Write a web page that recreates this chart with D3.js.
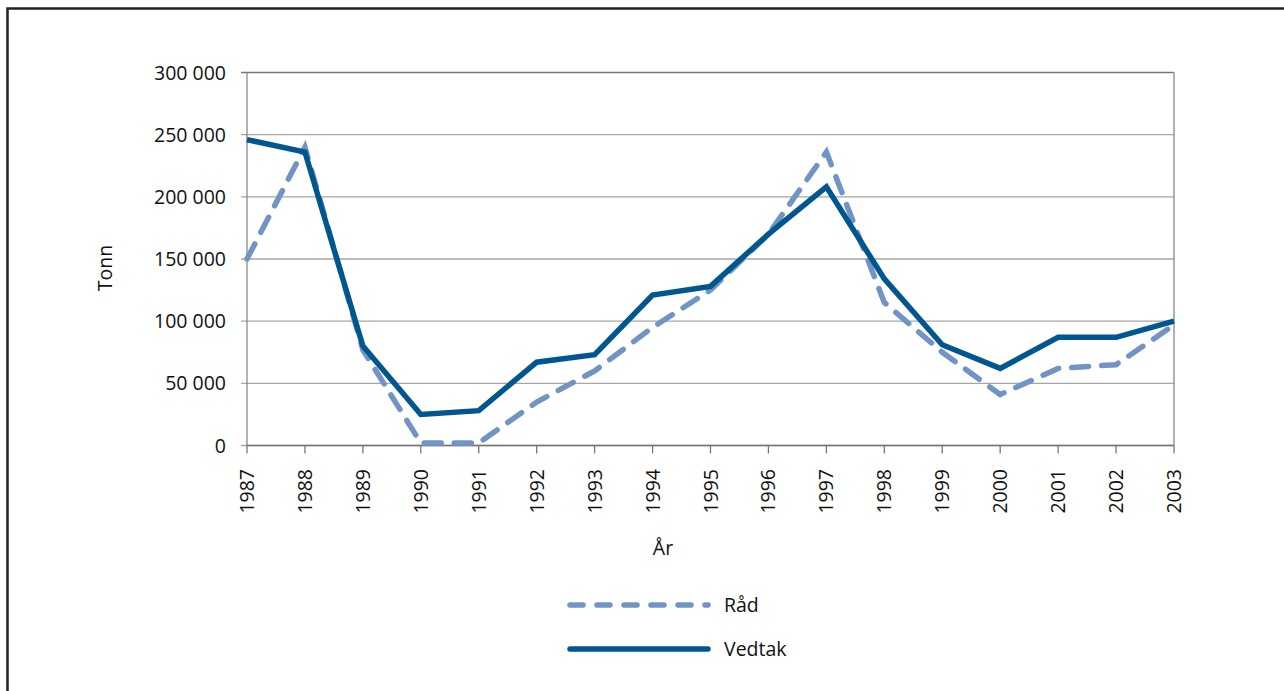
<!DOCTYPE html>
<html>
<head>
<meta charset="utf-8">
<script src="https://cdn.jsdelivr.net/npm/d3@7"></script>
<style>
  body { margin: 0; background: #fff; }
  text { font-family: "Open Sans", "Noto Sans", sans-serif; fill: #111; }
</style>
</head>
<body>
<svg id="chart" width="1284" height="691"></svg>
<script>
var years = [1987, 1988, 1989, 1990, 1991, 1992, 1993, 1994, 1995, 1996, 1997, 1998, 1999, 2000, 2001, 2002, 2003];
var raad = [150000, 240000, 77000, 2000, 2000, 35000, 60000, 95000, 125000, 170000, 236000, 115000, 75000, 41000, 62000, 65000, 97000];
var vedtak = [246000, 236000, 80000, 25000, 28000, 67000, 73000, 121000, 128000, 170000, 208000, 134000, 81000, 62000, 87000, 87000, 100000];
var yTicks = [0, 50000, 100000, 150000, 200000, 250000, 300000];

var svg = d3.select("#chart");

// outer frame (top + left only are visible)
svg.append("path")
    .attr("d", "M7.5,1284 V8.5 H1284")
    .attr("fill", "none")
    .attr("stroke", "#222")
    .attr("stroke-width", 2.5);

var plotLeft = 247, plotRight = 1174, plotTop = 72.5, plotBottom = 445.5;

var x = d3.scalePoint().domain(years).range([plotLeft, plotRight]);
var y = d3.scaleLinear().domain([0, 300000]).range([plotBottom, plotTop]);

var fmt = function (v) { return d3.format(",")(v).replace(/,/g, " "); };

// grid lines
svg.append("g")
    .selectAll("line")
    .data(yTicks)
    .enter().append("line")
    .attr("x1", plotLeft - 6).attr("x2", plotRight)
    .attr("y1", function (d) { return y(d); })
    .attr("y2", function (d) { return y(d); })
    .attr("stroke", function (d) { return d == 300000 ? "#777" : "#a6a6a6"; })
    .attr("stroke-width", 1.3);

// plot frame: left axis and right side
svg.append("line").attr("x1", plotLeft).attr("x2", plotLeft).attr("y1", plotTop).attr("y2", plotBottom)
    .attr("stroke", "#888").attr("stroke-width", 1.3);
svg.append("line").attr("x1", plotRight).attr("x2", plotRight).attr("y1", plotTop).attr("y2", plotBottom)
    .attr("stroke", "#888").attr("stroke-width", 1.3);

// y labels
svg.append("g")
    .selectAll("text")
    .data(yTicks)
    .enter().append("text")
    .attr("x", 226)
    .attr("y", function (d) { return y(d); })
    .attr("dy", "0.36em")
    .attr("text-anchor", "end")
    .attr("font-size", 19.5)
    .text(fmt);

// x axis
svg.append("line").attr("x1", plotLeft).attr("x2", plotRight).attr("y1", plotBottom).attr("y2", plotBottom)
    .attr("stroke", "#777").attr("stroke-width", 1.3);
svg.append("g")
    .selectAll("line")
    .data(years)
    .enter().append("line")
    .attr("x1", function (d) { return x(d); })
    .attr("x2", function (d) { return x(d); })
    .attr("y1", plotBottom).attr("y2", plotBottom + 8)
    .attr("stroke", "#777").attr("stroke-width", 1.3);
svg.append("g")
    .selectAll("text")
    .data(years)
    .enter().append("text")
    .attr("transform", function (d) { return "translate(" + x(d) + "," + 469 + ") rotate(-90)"; })
    .attr("dy", "0.36em")
    .attr("text-anchor", "end")
    .attr("font-size", 19.5)
    .text(function (d) { return d; });

// axis titles
svg.append("text")
    .attr("transform", "translate(105,268) rotate(-90)")
    .attr("dy", "0.36em")
    .attr("text-anchor", "middle")
    .attr("font-size", 19.5)
    .text("Tonn");
svg.append("text")
    .attr("x", 663).attr("y", 548)
    .attr("dy", "0.36em")
    .attr("text-anchor", "middle")
    .attr("font-size", 19.5)
    .text("År");

var line = d3.line()
    .x(function (d, i) { return x(years[i]); })
    .y(function (d) { return y(d); });

var raadColor = "#7094c4", vedtakColor = "#00568f";

svg.append("path")
    .datum(raad)
    .attr("d", line)
    .attr("fill", "none")
    .attr("stroke", raadColor)
    .attr("stroke-width", 5.5)
    .attr("stroke-linecap", "round")
    .attr("stroke-dasharray", "17,13");

svg.append("path")
    .datum(vedtak)
    .attr("d", line)
    .attr("fill", "none")
    .attr("stroke", vedtakColor)
    .attr("stroke-width", 5.5)
    .attr("stroke-linejoin", "miter");

// legend
var legend = [
    { name: "Råd", color: raadColor, dash: "13,14", y: 605 },
    { name: "Vedtak", color: vedtakColor, dash: null, y: 649 }
];
var lg = svg.append("g")
    .selectAll("g")
    .data(legend)
    .enter().append("g");
lg.append("line")
    .attr("x1", 570).attr("x2", 708)
    .attr("y1", function (d) { return d.y; })
    .attr("y2", function (d) { return d.y; })
    .attr("stroke", function (d) { return d.color; })
    .attr("stroke-width", 5.5)
    .attr("stroke-linecap", "round")
    .attr("stroke-dasharray", function (d) { return d.dash; });
lg.append("text")
    .attr("x", 724)
    .attr("y", function (d) { return d.y; })
    .attr("dy", "0.36em")
    .attr("font-size", 19.5)
    .text(function (d) { return d.name; });
</script>
</body>
</html>
